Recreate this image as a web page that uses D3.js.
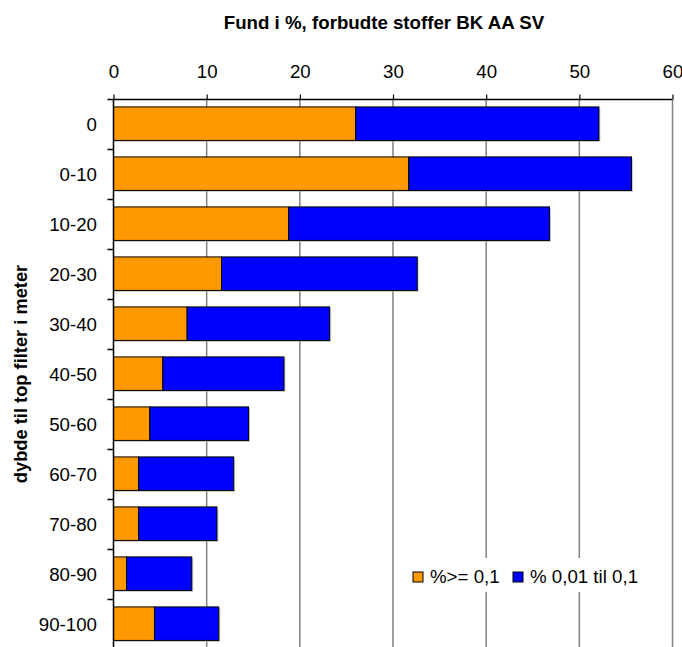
<!DOCTYPE html>
<html>
<head>
<meta charset="utf-8">
<script src="https://cdn.jsdelivr.net/npm/d3@7"></script>
<style>
  body { margin: 0; background: #fff; }
  text { font-family: "Liberation Sans", Arial, sans-serif; }
</style>
</head>
<body>
<script>
const width = 682;
const height = 647;
const fs = 18.7;

const categories = ['0', '0-10', '10-20', '20-30', '30-40', '40-50', '50-60', '60-70', '70-80', '80-90', '90-100'];
const high = [26.0, 31.7, 18.8, 11.6, 7.9, 5.3, 3.9, 2.7, 2.7, 1.4, 4.4];      // %>= 0,1
const low = [26.1, 23.9, 28.0, 21.0, 15.3, 13.0, 10.6, 10.2, 8.4, 7.0, 6.9];   // % 0,01 til 0,1
const xTicks = [0, 10, 20, 30, 40, 50, 60];
const seriesNames = ['%>= 0,1', '% 0,01 til 0,1'];
const colours = ['#FF9900', '#0000FF'];

const svg = d3.select('body').append('svg')
    .attr('width', width)
    .attr('height', height);

const x = d3.scaleLinear().domain([0, 60]).range([113.5, 672.5]);
const y = d3.scaleBand().domain(categories).range([99.5, 649.5])
    .paddingInner(0.33).paddingOuter(0.165).align(0.45);

// grid
svg.append('g').selectAll('line')
  .data(xTicks.slice(1))
  .join('line')
    .attr('x1', (d) => x(d)).attr('x2', (d) => x(d))
    .attr('y1', 99.5).attr('y2', height)
    .attr('stroke', '#808080').attr('stroke-width', 1.5);

// bars
const rows = categories.map((c, i) => ({ c, a: high[i], b: low[i] }));
const bars = svg.append('g');
rows.forEach((r) => {
  const y0 = y(r.c);
  const h = y.bandwidth();
  // faint shadow
  bars.append('rect')
    .attr('x', x(0) + 1.5).attr('y', y0 + 1.5)
    .attr('width', x(r.a + r.b) - x(0)).attr('height', h)
    .attr('fill', '#aaa').attr('opacity', 0.6);
  bars.append('rect')
    .attr('x', x(0)).attr('y', y0)
    .attr('width', x(r.a) - x(0)).attr('height', h)
    .attr('fill', colours[0]).attr('stroke', '#000').attr('stroke-width', 1);
  bars.append('rect')
    .attr('x', x(r.a)).attr('y', y0)
    .attr('width', x(r.a + r.b) - x(r.a)).attr('height', h)
    .attr('fill', colours[1]).attr('stroke', '#000').attr('stroke-width', 1);
});

// top axis
const xAxis = d3.axisTop(x).tickValues(xTicks).tickSize(5).tickPadding(0).tickSizeOuter(0);
const gx = svg.append('g').attr('transform', 'translate(0,99.5)').call(xAxis);
gx.select('.domain').attr('stroke', '#000').attr('stroke-width', 1.5).attr('d', `M${x(0) - 6},0H${x(60)}`);
gx.selectAll('.tick line').attr('stroke', '#000').attr('stroke-width', 1.2);
gx.selectAll('text').attr('font-size', fs).attr('fill', '#000')
    .attr('y', -22).attr('dy', 0)
    .style('font-family', '"Liberation Sans", Arial, sans-serif');

// left axis
svg.append('line')
    .attr('x1', x(0)).attr('x2', x(0)).attr('y1', 99.5).attr('y2', height)
    .attr('stroke', '#000').attr('stroke-width', 1.5);
svg.append('g').selectAll('line')
  .data(categories.slice(1))
  .join('line')
    .attr('x1', x(0) - 6).attr('x2', x(0))
    .attr('y1', (d) => 99.5 + categories.indexOf(d) * y.step())
    .attr('y2', (d) => 99.5 + categories.indexOf(d) * y.step())
    .attr('stroke', '#000').attr('stroke-width', 1.5);
svg.append('g').selectAll('text')
  .data(categories)
  .join('text')
    .attr('x', 97)
    .attr('y', (d, i) => 99.5 + (i + 0.5) * y.step())
    .attr('dy', '0.35em')
    .attr('text-anchor', 'end')
    .attr('font-size', fs)
    .text((d) => d);

// titles
svg.append('text')
    .attr('x', 384).attr('y', 29)
    .attr('text-anchor', 'middle')
    .attr('font-size', fs).attr('font-weight', 'bold')
    .text('Fund i %, forbudte stoffer BK AA SV');
svg.append('text')
    .attr('transform', 'translate(27,374) rotate(-90)')
    .attr('text-anchor', 'middle')
    .attr('font-size', 18.3).attr('font-weight', 'bold')
    .text('dybde til top filter i meter');

// legend
const lg = svg.append('g').attr('transform', 'translate(405,558)');
lg.append('rect').attr('width', 245).attr('height', 34).attr('fill', '#fff');
const items = [{ n: seriesNames[0], c: colours[0], dx: 8 }, { n: seriesNames[1], c: colours[1], dx: 108 }];
items.forEach((it) => {
  lg.append('rect').attr('x', it.dx).attr('y', 14).attr('width', 10).attr('height', 10)
    .attr('fill', it.c).attr('stroke', '#000').attr('stroke-width', 1);
  lg.append('text').attr('x', it.dx + 17).attr('y', 24.5)
    .attr('font-size', fs).text(it.n);
});
</script>
</body>
</html>
